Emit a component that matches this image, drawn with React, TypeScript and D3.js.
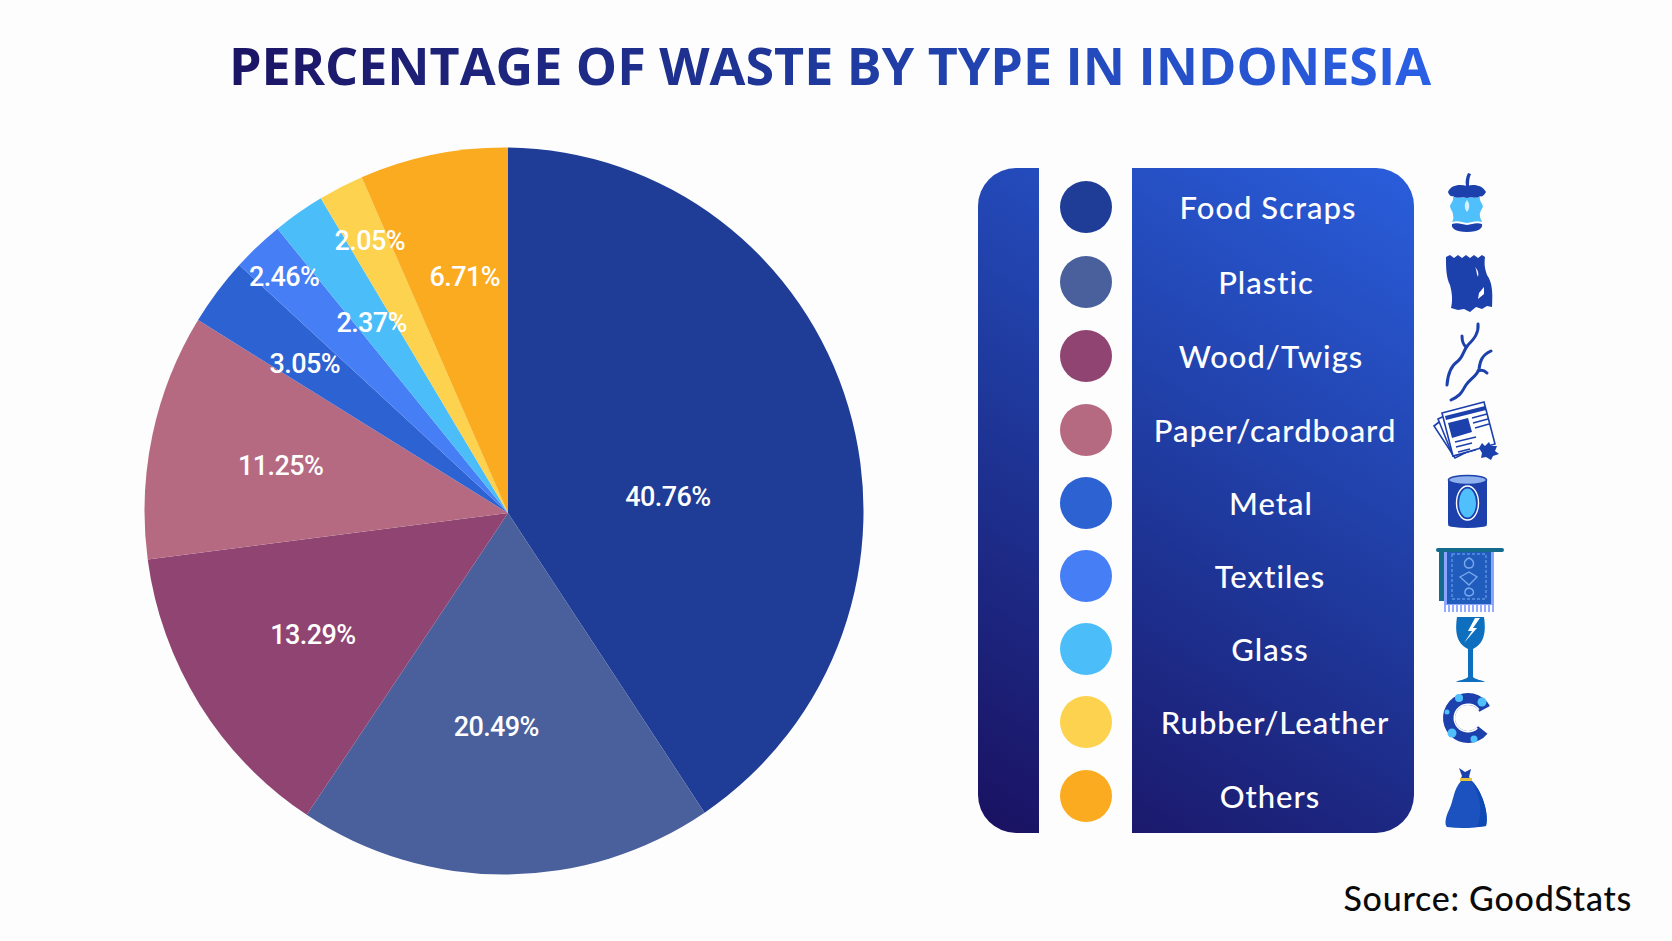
import * as d3 from 'd3';
import * as React from 'react';

const categories = ['Food Scraps', 'Plastic', 'Wood/Twigs', 'Paper/cardboard', 'Metal', 'Textiles', 'Glass', 'Rubber/Leather', 'Others'];
// printed on the slices
const percentLabels = ['40.76%', '20.49%', '13.29%', '11.25%', '3.05%', '2.46%', '2.37%', '2.05%', '6.71%'];
// slice sizes as drawn in the picture, they do not quite follow the printed numbers
const sliceShares = [40.76, 18.6, 13.6, 10.9, 3.0, 2.3, 2.3, 2.0, 6.54];
const colors = ['#1f3d96', '#4a609c', '#8f4472', '#b66a82', '#2d62d2', '#467ef5', '#4bbdf9', '#fdd24e', '#fbab1f'];
const labelNudge = [[-15, 33], [-11, 28], [-40, 22], [-49, -12], [-58, -42], [-99, -106], [-32, -44], [-55, -113], [-6, -61]];
const rowY = [207, 282, 356, 430, 503, 576, 649, 722, 796];
const rowShift = [-4, -6, -1, 3, -1, -2, -2, 3, -2];

const W = 1672;
const H = 941;
// the outline is a slightly squashed ellipse and the slices meet a little off its centre
const apex = { x: 508, y: 513 };
const rim = { x: 504, y: 511, rx: 359.5, ry: 363.5 };
const navy = '#1c40ac';
const sky = '#4fc0fb';

const pie = d3.pie<number>().sort(null).value((d) => d);
const slices = pie(sliceShares);

const rimPoint = (angle: number) => {
  const dx = Math.sin(angle) / rim.rx;
  const dy = -Math.cos(angle) / rim.ry;
  const px = (apex.x - rim.x) / rim.rx;
  const py = (apex.y - rim.y) / rim.ry;
  const a = dx * dx + dy * dy;
  const b = px * dx + py * dy;
  const c = px * px + py * py - 1;
  const t = (-b + Math.sqrt(b * b - a * c)) / a;
  return [apex.x + t * Math.sin(angle), apex.y - t * Math.cos(angle)];
};

const slicePath = (d: d3.PieArcDatum<number>) => {
  const [x0, y0] = rimPoint(d.startAngle);
  const [x1, y1] = rimPoint(d.endAngle);
  const large = d.endAngle - d.startAngle > Math.PI ? 1 : 0;
  return `M${apex.x},${apex.y}L${x0},${y0}A${rim.rx},${rim.ry} 0 ${large} 1 ${x1},${y1}Z`;
};

const tireArc = d3.arc<any>()({ innerRadius: 13, outerRadius: 25, startAngle: 2.25, endAngle: 7.35 } as any) as string;
const tireLine = d3.arc<any>()({ innerRadius: 13, outerRadius: 14.5, startAngle: 2.4, endAngle: 7.2 } as any) as string;

const icons = [
  // apple core
  <g transform="translate(1447,173)" key="apple">
    <path d="M19 13C18 8 19 4 21 0L24 1C22 5 22 9 22 13Z" fill={navy} />
    <path d="M1 19C4 12 12 11 20 13C27 11 35 12 39 19C36 24 34 24 33 23C30 27 26 23 20 25C14 23 10 27 6 23C4 24 2 22 1 19Z" fill={navy} />
    <path d="M6 23C10 27 14 23 20 25C26 23 30 27 33 23C32 28 35 30 36 33C35 37 32 39 33 43C33 46 35 48 35 49C30 47 25 49 20 50C15 49 10 47 5 49C6 47 7 45 6 42C6 38 3 36 3 33C4 30 7 28 6 23Z" fill={sky} />
    <path d="M20 27C23 31 23 35 20 39C17 35 17 31 20 27Z" fill="#d5f2ff" />
    <path d="M5 51C10 49 15 51 20 52C25 51 30 49 35 51C36 55 32 59 20 59C8 59 4 55 5 51Z" fill={navy} />
  </g>,
  // torn plastic wrapper
  <g transform="translate(1446,255)" key="plastic">
    <path d="M0 2L4 0L8 3L12 0L16 3L20 0L24 3L28 0L32 3L36 0L39 2C38 10 39 14 41 20C46 27 47 36 46 52L41 51L36 54L30 52L24 57L18 54L12 55L5 53C7 45 6 38 4 30C0 22 0 12 0 2Z" fill={navy} />
    <path d="M29 12C31 15 30 18 32 22C33 18 32 15 29 12Z" fill="#fff" />
    <path d="M32 44L33 38L38 32L38 39Z" fill="#fff" />
  </g>,
  // twigs
  <g transform="translate(1446,323)" fill="none" stroke={navy} strokeWidth={3} strokeLinecap="round" key="twigs">
    <path d="M32 1C33 10 28 16 22 22C17 28 17 34 12 38C6 42 2 48 1 62" />
    <path d="M16 13C16 20 18 22 20 24" />
    <path d="M45 28C36 32 34 38 33 46C32 52 24 56 20 62C16 68 16 72 5 77" />
    <path d="M32 48C36 46 39 48 41 50" />
  </g>,
  // newspaper
  <g transform="translate(1433,402)" key="paper">
    <g fill="#fff" stroke={navy} strokeWidth={1.6}>
      <path d="M1 24L15 13L38 48L22 56Z" />
      <path d="M5 17L22 9L42 48L20 54Z" />
      <path d="M9 11L51 0L62 42L20 54Z" />
    </g>
    <path d="M12 14L52 4L53 8L13 18Z" fill={navy} />
    <path d="M15 21L35 16L39 30L19 36Z" fill={navy} />
    <path d="M39 16L54 12M40 21L55 17M42 26L56 22M22 40L43 35M23 45L39 41M25 50L37 47" stroke={navy} strokeWidth={1.6} />
    <path d="M46 46L49 41L52 44L56 40L58 44L64 44L62 49L66 52L60 54L58 58L53 55L48 56L49 51Z" fill={navy} />
  </g>,
  // tin can
  <g transform="translate(1448,475)" key="can">
    <rect x={0} y={4} width={39} height={47} rx={3} fill={navy} />
    <ellipse cx={19.5} cy={50} rx={19.5} ry={3} fill={navy} />
    <ellipse cx={19.5} cy={5} rx={19} ry={4.5} fill="#8fb2ef" stroke={navy} strokeWidth={1.6} />
    <ellipse cx={19.5} cy={28} rx={11} ry={17} fill="none" stroke="#fff" strokeWidth={1.4} />
    <ellipse cx={19.5} cy={28} rx={8.5} ry={14.5} fill={sky} />
  </g>,
  // textile on a rail
  <g transform="translate(1436,548)" key="textile">
    <rect x={3} y={3} width={6} height={50} fill="#146b8e" />
    <rect x={8} y={3} width={50} height={54} fill="#8ba4ff" />
    <rect x={11} y={2} width={44} height={54} fill="#1f5cbc" />
    <rect x={0} y={0} width={68} height={4} rx={2} fill="#146b8e" />
    <rect x={16} y={6} width={34} height={45} fill="none" stroke="#5d92e6" strokeWidth={1.4} strokeDasharray="3 2" />
    <path d="M33 10C40 13 38 20 33 20C28 20 26 13 33 10ZM24 29L33 24L41 29L33 37ZM33 40C38 41 40 47 33 48C27 47 28 41 33 40Z" fill="none" stroke="#79a8ee" strokeWidth={1.4} />
    <path d="M9 57V64M13 57V64M17 57V64M21 57V64M25 57V64M29 57V64M33 57V64M37 57V64M41 57V64M45 57V64M49 57V64M53 57V64M57 57V64" stroke="#8ba4ff" strokeWidth={1.8} />
  </g>,
  // broken glass
  <g transform="translate(1456,617)" key="glass">
    <path d="M1 0H28C30 14 29 26 17 32V60C20 63 26 63 29 65H0C3 63 9 63 12 60V32C0 26 -1 14 1 0Z" fill="#0d6fbe" />
    <path d="M19 1L12 14L16 14L8 26L21 11L17 11L24 1Z" fill="#fff" />
  </g>,
  // tyre
  <g transform="translate(1468,718)" key="tire">
    <path d={tireArc} fill={navy} />
    <path d={tireLine} fill="#fff" />
    <circle cx={-9} cy={-20} r={4} fill={sky} />
    <circle cx={14} cy={-16} r={4.5} fill={sky} />
    <circle cx={-21} cy={-6} r={2.5} fill={sky} />
    <circle cx={-16} cy={15} r={4.5} fill={sky} />
    <circle cx={6} cy={21} r={3.5} fill={sky} />
  </g>,
  // rubbish bag
  <g transform="translate(1445,768)" key="bag">
    <path d="M14 0L20 4L26 1L24 9L27 12L15 12L17 8Z" fill={navy} />
    <path d="M16 13C8 22 9 32 4 42C1 48 -1 56 2 59C15 61 30 60 41 58C44 48 39 26 27 13Z" fill="#1b52c0" />
    <path d="M27 13C36 30 38 44 32 59L41 58C44 48 39 26 27 13Z" fill="#0e49b4" />
    <rect x={15} y={10} width={12} height={3} fill="#e5c33e" />
  </g>,
];

const App = () => {
  const ref = React.useRef<SVGGElement | null>(null);

  React.useEffect(() => {
    const g = d3.select(ref.current);
    g.selectAll('*').remove();
    g.selectAll('path.slice')
      .data(slices)
      .enter()
      .append('path')
      .attr('class', 'slice')
      .attr('d', (d) => slicePath(d))
      .attr('fill', (_, i) => colors[i]);
  }, []);

  return (
    <svg width={W} height={H} viewBox={`0 0 ${W} ${H}`} style={{ position: 'absolute', left: 0, top: 0, display: 'block', background: '#fdfdfd' }}>
      <defs>
        <linearGradient id="title-fill" gradientUnits="userSpaceOnUse" x1={232} x2={1431} y1={0} y2={0}>
          <stop offset="0%" stopColor="#1c1464" />
          <stop offset="50%" stopColor="#1f3a9e" />
          <stop offset="100%" stopColor="#2a60e6" />
        </linearGradient>
        <linearGradient id="panel-fill" gradientUnits="userSpaceOnUse" x1={1000} y1={833} x2={1414} y2={168}>
          <stop offset="0%" stopColor="#1a1262" />
          <stop offset="50%" stopColor="#1f3a9e" />
          <stop offset="100%" stopColor="#2a5edc" />
        </linearGradient>
      </defs>

      <text x={830} y={85} textAnchor="middle" fontFamily="Open Sans" fontWeight={700} fontSize={52} fill="url(#title-fill)">
        PERCENTAGE OF WASTE BY TYPE IN INDONESIA
      </text>

      <g ref={ref} />
      {slices.map((d, i) => {
        const [x, y] = d3.pointRadial((d.startAngle + d.endAngle) / 2, 182.5);
        return (
          <text key={categories[i]} x={apex.x + x + labelNudge[i][0]} y={apex.y + y + labelNudge[i][1] + 12.5} textAnchor="middle" fontFamily="Roboto" fontWeight={500} fontSize={27} letterSpacing={-0.6} fill="#fff">
            {percentLabels[i]}
          </text>
        );
      })}

      <rect x={978} y={168} width={436} height={665} rx={38} fill="url(#panel-fill)" />
      <rect x={1039} y={160} width={93} height={680} fill="#fdfdfd" />
      {categories.map((c, i) => (
        <g key={c}>
          <circle cx={1086} cy={rowY[i]} r={26} fill={colors[i]} />
          <text x={1272 + rowShift[i]} y={rowY[i] + 12} textAnchor="middle" fontFamily="Lato" fontWeight={500} fontSize={31} letterSpacing={1} fill="#fff">
            {c}
          </text>
        </g>
      ))}
      {icons}

      <text x={1632} y={911} textAnchor="end" fontFamily="Lato" fontWeight={500} fontSize={34} letterSpacing={0.75} fill="#0a0a0a">
        Source: GoodStats
      </text>
    </svg>
  );
};

export default App;
